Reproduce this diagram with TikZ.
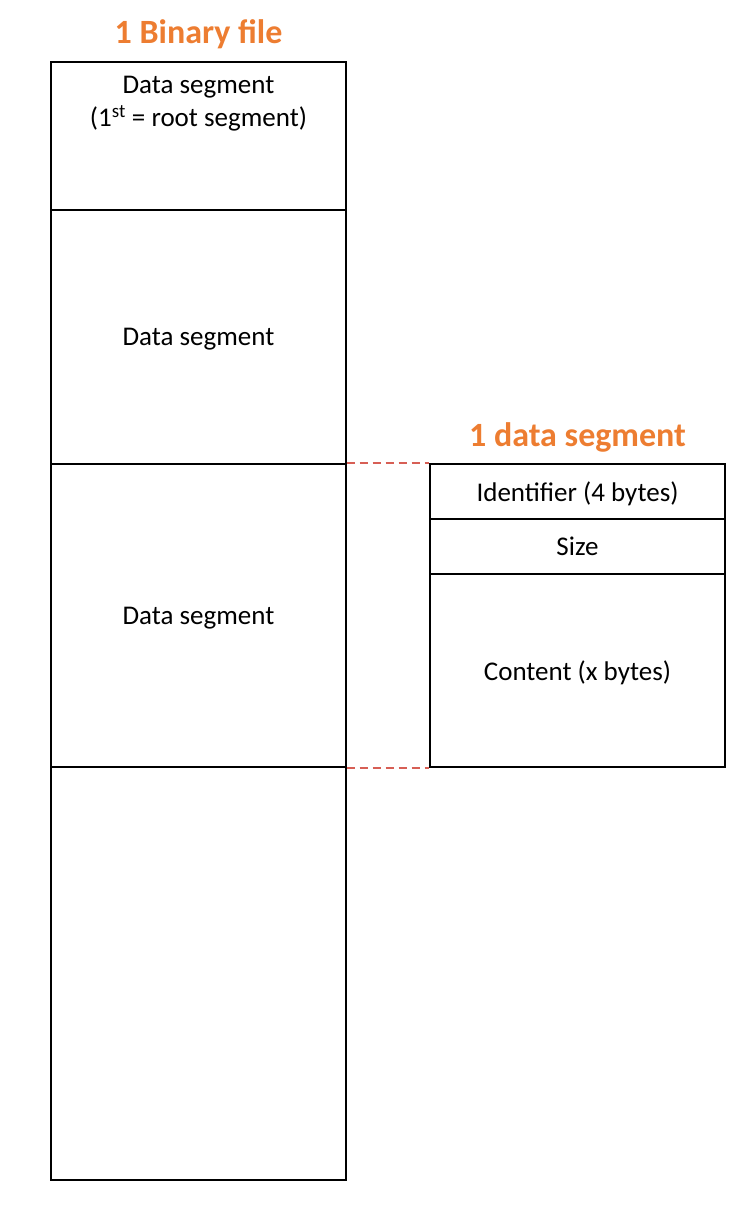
\documentclass[tikz,border=0pt]{standalone}
\usepackage{fontspec}
\setmainfont{Carlito}
\definecolor{titleorange}{RGB}{237,125,49}
\definecolor{dashred}{RGB}{215,95,85}
\begin{document}
\begin{tikzpicture}[x=1pt,y=-1pt,
  segbox/.style={draw,line width=1.2pt,inner sep=0pt,minimum width=295pt,font=\fontsize{27}{33}\selectfont,align=center,text depth=0pt},
  titletext/.style={text=titleorange,font=\fontsize{34}{40}\selectfont\bfseries},
  bodytext/.style={font=\fontsize{27}{33}\selectfont,align=center,inner sep=0pt},
  linkline/.style={draw=dashred,line width=2pt,dash pattern=on 8pt off 5pt}]
\useasboundingbox (0,0) rectangle (743,1205);
\node[titletext] (t1) at (198.5,34) {1 Binary file};
\node[segbox,minimum height=148pt] (seg1) at (198.5,136) {};
\node[bodytext] (seg1txt) at (198.5,104) {Data segment\\(1\textsuperscript{st} = root segment)};
\node[segbox,minimum height=254pt] (seg2) at (198.5,337) {Data segment};
\node[segbox,minimum height=303pt] (seg3) at (198.5,615.5) {Data segment};
\node[segbox,minimum height=413pt] (seg4) at (198.5,973.5) {};
\node[titletext] (t2) at (577.5,437) {1 data segment};
\node[segbox,minimum height=55pt] (ident) at (577.5,491.5) {Identifier (4 bytes)};
\node[segbox,minimum height=55pt] (size) at (577.5,546.5) {Size};
\node[segbox,minimum height=193pt] (content) at (577.5,670.5) {Content (x bytes)};
\draw[linkline] (seg3.north east) -- (ident.north west);
\draw[linkline] (seg3.south east) -- (content.south west);
\end{tikzpicture}
\end{document}
